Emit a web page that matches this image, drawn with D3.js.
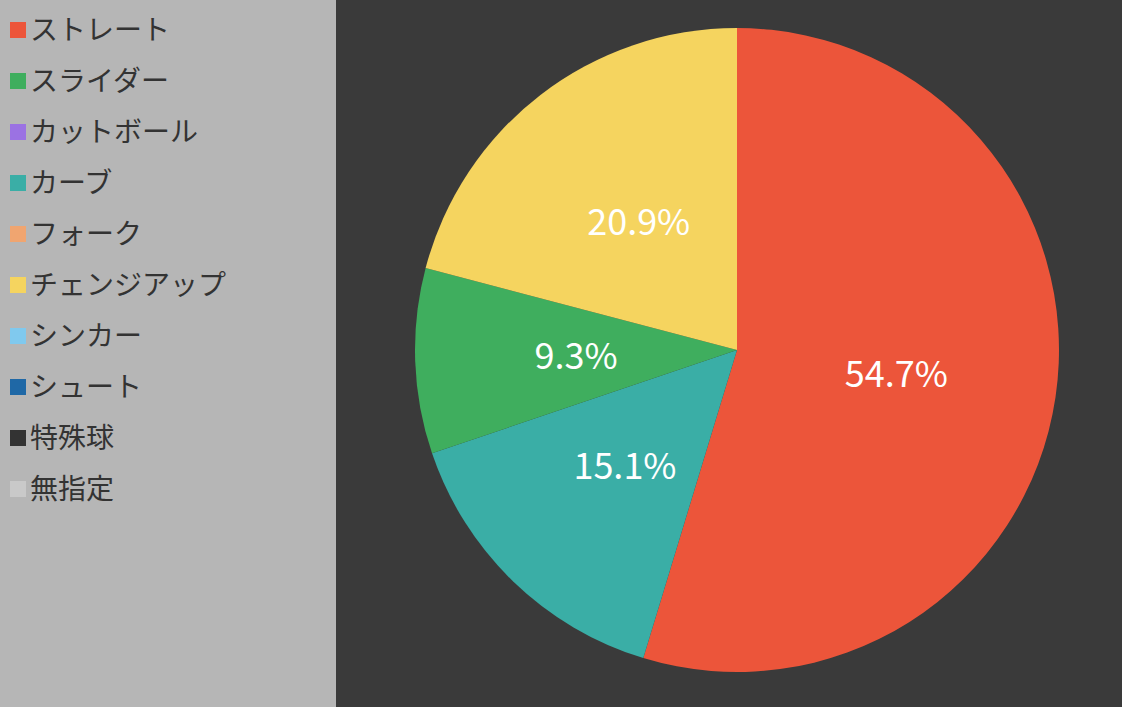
<!DOCTYPE html>
<html><head><meta charset="utf-8">
<script src="https://cdn.jsdelivr.net/npm/d3@7"></script>
<style>body{margin:0;background:#3a3a3a;font-family:"Noto Sans CJK JP","Noto Sans",sans-serif}</style>
</head><body><svg id="c" width="1122" height="707"></svg>
<script>
const legendNames = ["ストレート","スライダー","カットボール","カーブ","フォーク","チェンジアップ","シンカー","シュート","特殊球","無指定"];
const legendColors = ["#ec553a","#3fae5e","#9b72e3","#3aaea6","#f0a570","#f5d45f","#80c9ee","#1f68a6","#333333","#c9c9c9"];
const pieNames = ["ストレート","カーブ","スライダー","チェンジアップ"];
const pieValues = [54.7,15.1,9.3,20.9];

const svg = d3.select("#c");
svg.append("rect").attr("width",336).attr("height",707).attr("fill","#b6b6b6");
svg.append("rect").attr("x",336).attr("width",786).attr("height",707).attr("fill","#3a3a3a");

const ly = d3.scalePoint().domain(legendNames).range([30,489]);
const color = d3.scaleOrdinal().domain(legendNames).range(legendColors);
const lg = svg.append("g").selectAll("g").data(legendNames).join("g")
  .attr("transform",d=>`translate(0,${ly(d)})`);
lg.append("rect").attr("x",10).attr("y",-8).attr("width",16).attr("height",16).attr("fill",d=>color(d));
lg.append("text").attr("x",30).attr("dy","0.36em").attr("font-size",28).attr("fill","#333").text(d=>d);

const cx=737, cy=350, R=322;
const pie = d3.pie().sort(null).value(d=>d.v);
const data = pieNames.map((n,i)=>({n,v:pieValues[i]}));
const arcs = pie(data);
const arc = d3.arc().innerRadius(0).outerRadius(R);
const lab = d3.arc().innerRadius(R*0.5).outerRadius(R*0.5);
const g = svg.append("g").attr("transform",`translate(${cx},${cy})`);
g.selectAll("path").data(arcs).join("path").attr("d",arc).attr("fill",d=>color(d.data.n));
g.selectAll("text").data(arcs).join("text")
  .attr("transform",d=>`translate(${lab.centroid(d)})`)
  .attr("text-anchor","middle").attr("dy","0.36em")
  .attr("font-size",36).attr("fill","#fff")
  .text(d=>d.data.v.toFixed(1)+"%");
</script></body></html>
